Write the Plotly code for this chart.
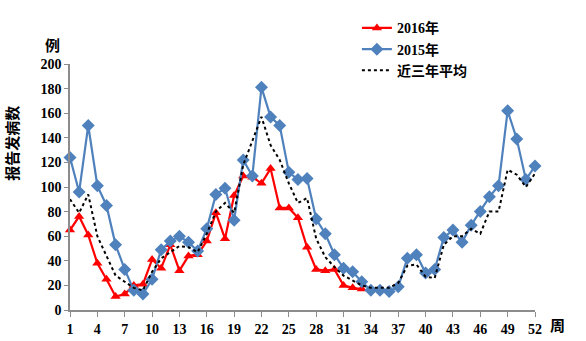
import plotly.graph_objects as go

weeks = list(range(1, 53))

cases_2016 = [65, 76, 61, 38, 25, 11, 13, 20, 21, 41, 34, 53, 32, 44, 45, 56, 79, 58, 93, 109,
              108, 103, 115, 83, 83, 75, 51, 33, 32, 33, 20, 18, 17]

cases_2015 = [124, 96, 150, 101, 85, 53, 33, 16, 13, 25, 49, 56, 60, 55, 48, 66, 94, 99, 73, 122,
              109, 181, 157, 150, 112, 106, 107, 74, 62, 45, 34, 31, 23, 16, 16, 15, 19, 42, 45, 30,
              33, 59, 65, 55, 69, 80, 92, 101, 162, 139, 106, 117]

avg_3yr = [90, 79, 94, 60, 44, 28, 23, 18, 16, 31, 42, 47, 52, 51, 47, 62, 80, 87, 79, 118,
           138, 157, 134, 122, 103, 87, 91, 58, 43, 35, 28, 24, 20, 18, 18, 18, 22, 36, 37, 27,
           26, 53, 60, 60, 66, 62, 80, 80, 114, 110, 100, 111]

series_names = ["2016年", "2015年", "近三年平均"]
x_ticks = list(range(1, 53, 3))

num_font = "Liberation Serif, Times New Roman, Noto Sans CJK SC"
cjk_font = "Noto Sans CJK SC, Liberation Serif"

fig = go.Figure()
fig.add_trace(go.Scatter(
    x=weeks[:len(cases_2016)], y=cases_2016, name=series_names[0], mode="lines+markers",
    line=dict(color="#FF0000", width=2.2),
    marker=dict(symbol="triangle-up", size=9, color="#FF0000"),
    cliponaxis=False, legendgroup="a"))
fig.add_trace(go.Scatter(
    x=weeks, y=cases_2015, name=series_names[1], mode="lines+markers",
    line=dict(color="#4F81BD", width=2.2),
    marker=dict(symbol="diamond", size=10, color="#4F81BD"),
    cliponaxis=False, legendgroup="b"))
fig.add_trace(go.Scatter(
    x=weeks, y=avg_3yr, name=series_names[2], mode="lines",
    line=dict(color="#000000", width=2, dash="dot"),
    cliponaxis=False, legendgroup="c"))

fig.update_layout(
    width=586, height=341,
    margin=dict(l=70, r=51, t=64, b=31),
    paper_bgcolor="white", plot_bgcolor="white",
    showlegend=True,
    legend=dict(x=0.617, y=1.21, xanchor="left", yanchor="top",
                font=dict(family=num_font, size=14, color="black", weight="bold"),
                tracegroupgap=0, bgcolor="rgba(0,0,0,0)"),
    xaxis=dict(range=[1, 52], tickvals=x_ticks, ticktext=[str(t) for t in x_ticks],
               automargin=False,
               showgrid=False, zeroline=False, showline=True, linecolor="#8c8c8c", linewidth=1.5,
               ticks="outside", ticklen=5, tickcolor="#8c8c8c",
               tickfont=dict(family=num_font, size=14, color="black", weight="bold")),
    yaxis=dict(range=[0, 200], dtick=20, automargin=False,
               showgrid=False, zeroline=False, showline=True, linecolor="#8c8c8c", linewidth=1.5,
               ticks="outside", ticklen=4, tickcolor="#8c8c8c",
               tickfont=dict(family=num_font, size=14, color="black", weight="bold")),
    annotations=[
        dict(text="例", xref="paper", yref="paper", x=-0.0366, y=1.081, showarrow=False,
             xanchor="center", yanchor="middle",
             font=dict(family=cjk_font, size=15, color="black", weight="bold")),
        dict(text="周", xref="paper", yref="paper", x=1.049, y=-0.057, showarrow=False,
             xanchor="center", yanchor="middle",
             font=dict(family=cjk_font, size=15, color="black", weight="bold")),
        dict(text="报告发病数", xref="paper", yref="paper", x=-0.125, y=0.679, showarrow=False,
             xanchor="center", yanchor="middle",
             textangle=-90, font=dict(family=cjk_font, size=15, color="black", weight="bold")),
    ],
)

fig.write_html("out.html")
